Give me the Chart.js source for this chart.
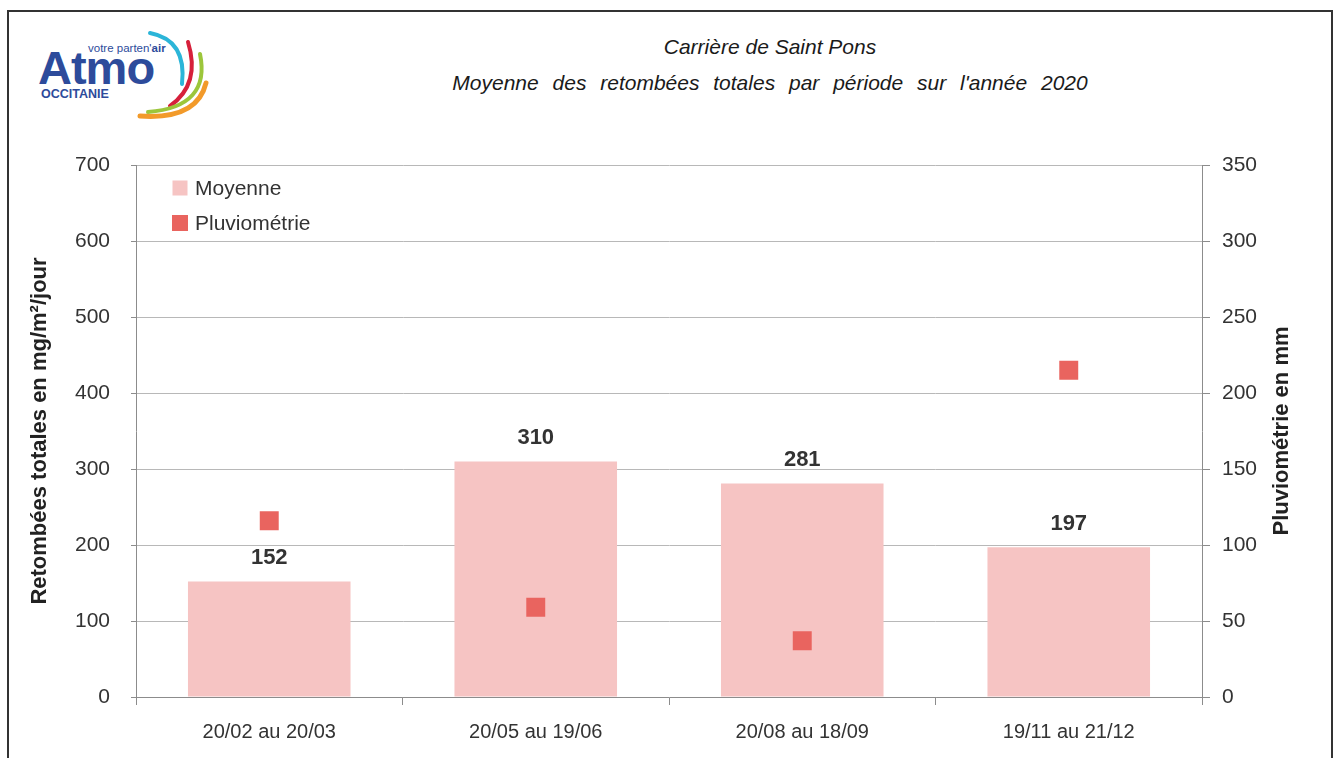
<!DOCTYPE html>
<html lang="fr">
<head>
<meta charset="utf-8">
<title>Carrière de Saint Pons</title>
<script src="https://cdn.jsdelivr.net/npm/chart.js@4/dist/chart.umd.min.js"></script>
<style>
  html, body { margin: 0; padding: 0; background: #fff; }
  body { width: 1338px; height: 758px; position: relative; overflow: hidden; font-family: 'Liberation Sans', Arial, sans-serif; }
  #cadre { position: absolute; left: 7px; top: 10px; width: 1326px; height: 770px; box-sizing: border-box; border: 2px solid #333; }
  #logo { position: absolute; left: 0; top: 0; }
  .titre { position: absolute; left: 370px; width: 800px; text-align: center; font-style: italic; font-size: 21px; color: #1a1a1a; }
  #titre1 { top: 35px; }
  #titre2 { top: 71px; word-spacing: 8px; }
  #graph { position: absolute; left: 0; top: 0; }
</style>
</head>
<body>
<div id="cadre"></div>
<svg id="logo" width="230" height="130" xmlns="http://www.w3.org/2000/svg">
  <text x="88" y="52" font-family="Liberation Sans, Arial" font-size="11.5" fill="#2d4b9b">votre parten'<tspan font-weight="bold">air</tspan></text>
  <text x="38" y="84" font-family="Liberation Sans, Arial" font-size="47" font-weight="bold" fill="#2d4b9b" letter-spacing="-1">Atmo</text>
  <text x="41" y="98" font-family="Liberation Sans, Arial" font-size="12.5" font-weight="bold" fill="#2d4b9b">OCCITANIE</text>
  <path d="M150,33 Q187,40 182,84" stroke="#2bb5d8" stroke-width="4" fill="none" stroke-linecap="round"/>
  <path d="M188,42 Q201,84 170,106" stroke="#d6203b" stroke-width="4" fill="none" stroke-linecap="round"/>
  <path d="M200,54 Q211,107 148,112" stroke="#9cc63b" stroke-width="4" fill="none" stroke-linecap="round"/>
  <path d="M206,83 Q197,120 140,116" stroke="#f29a2a" stroke-width="5" fill="none" stroke-linecap="round"/>
</svg>
<div class="titre" id="titre1">Carrière de Saint Pons</div>
<div class="titre" id="titre2">Moyenne des retombées totales par période sur l'année 2020</div>
<canvas id="graph" width="1338" height="758"></canvas>
<script>
// données
const periodes = ['20/02 au 20/03', '20/05 au 19/06', '20/08 au 18/09', '19/11 au 21/12']
const moyenne = [152, 310, 281, 197]
const pluviometrie = [116, 59, 37, 215]
const ticksGauche = [0, 100, 200, 300, 400, 500, 600, 700]
const ticksDroite = [0, 50, 100, 150, 200, 250, 300, 350]

const couleurBarre = '#f6c4c3'
const couleurPluie = '#e9645f'
const gris = '#8c8c8c'
const texte = '#333333'
const police = "'Liberation Sans', Arial, sans-serif"

// étiquettes de valeur au-dessus des barres
const etiquettes = {
    id: 'etiquettes',
    afterDatasetsDraw(chart) {
        const ctx = chart.ctx
        const meta = chart.getDatasetMeta(0)
        ctx.save()
        ctx.font = 'bold 22px ' + police
        ctx.fillStyle = texte
        ctx.textAlign = 'center'
        ctx.textBaseline = 'alphabetic'
        meta.data.forEach((bar, i) => {
            ctx.fillText(moyenne[i], bar.x, bar.y - 17)
        })
        ctx.restore()
    }
}

// légende dans la zone de tracé + titres des axes
const decor = {
    id: 'decor',
    afterDraw(chart) {
        const ctx = chart.ctx
        const area = chart.chartArea
        ctx.save()
        ctx.font = '21px ' + police
        ctx.textBaseline = 'middle'
        const items = [
            { label: chart.data.datasets[0].label, color: couleurBarre, size: 15, y: 188 },
            { label: chart.data.datasets[1].label, color: couleurPluie, size: 16, y: 223 }
        ]
        items.forEach(it => {
            ctx.fillStyle = it.color
            ctx.fillRect(area.left + 44 - it.size / 2, it.y - it.size / 2, it.size, it.size)
            ctx.fillStyle = texte
            ctx.textAlign = 'left'
            ctx.fillText(it.label, area.left + 59, it.y + 1)
        })

        // titres des axes verticaux (les deux se lisent de bas en haut)
        const midY = (area.top + area.bottom) / 2
        ctx.font = 'bold 22px ' + police
        ctx.fillStyle = '#222'
        ctx.textAlign = 'center'
        ctx.textBaseline = 'middle'
        ;[[40, 'Retombées totales en mg/m²/jour'], [1282, 'Pluviométrie en mm']].forEach(([x, t]) => {
            ctx.save()
            ctx.translate(x, midY)
            ctx.rotate(-Math.PI / 2)
            ctx.fillText(t, 0, 0)
            ctx.restore()
        })
        ctx.restore()
    }
}

Chart.defaults.font.family = police
Chart.defaults.color = texte

new Chart(document.getElementById('graph'), {
    data: {
        labels: periodes,
        datasets: [
            {
                type: 'bar',
                label: 'Moyenne',
                data: moyenne,
                yAxisID: 'y',
                backgroundColor: couleurBarre,
                barPercentage: 0.61,
                categoryPercentage: 1,
                order: 1
            },
            {
                type: 'scatter',
                label: 'Pluviométrie',
                data: pluviometrie,
                yAxisID: 'y1',
                backgroundColor: couleurPluie,
                borderWidth: 0,
                pointStyle: 'rect',
                pointRadius: 13.4,
                pointHoverRadius: 13.4,
                showLine: false,
                order: 0
            }
        ]
    },
    options: {
        responsive: false,
        animation: false,
        events: [],
        layout: { padding: { top: 165, left: 0, right: 0, bottom: 0 } },
        plugins: {
            legend: { display: false },
            tooltip: { enabled: false }
        },
        scales: {
            x: {
                type: 'category',
                offset: true,
                afterFit: s => { s.height = 61 },
                grid: { display: true, offset: true, drawOnChartArea: false, tickLength: 8, tickColor: gris, color: gris },
                border: { color: gris },
                ticks: { font: { size: 20 }, color: texte, padding: 15, maxRotation: 0 }
            },
            y: {
                position: 'left',
                min: 0,
                max: 700,
                afterFit: s => { s.width = 136 },
                afterBuildTicks: s => { s.ticks = ticksGauche.map(v => ({ value: v })) },
                grid: { color: '#b8b8b8', tickColor: gris, tickLength: 5 },
                border: { color: gris },
                ticks: { font: { size: 21 }, color: texte, padding: 21 }
            },
            y1: {
                position: 'right',
                min: 0,
                max: 350,
                afterFit: s => { s.width = 136 },
                afterBuildTicks: s => { s.ticks = ticksDroite.map(v => ({ value: v })) },
                grid: { drawOnChartArea: false, tickColor: gris, tickLength: 8, color: gris },
                border: { color: gris },
                ticks: { font: { size: 21 }, color: texte, padding: 12 }
            }
        }
    },
    plugins: [etiquettes, decor]
})
</script>
</body>
</html>
